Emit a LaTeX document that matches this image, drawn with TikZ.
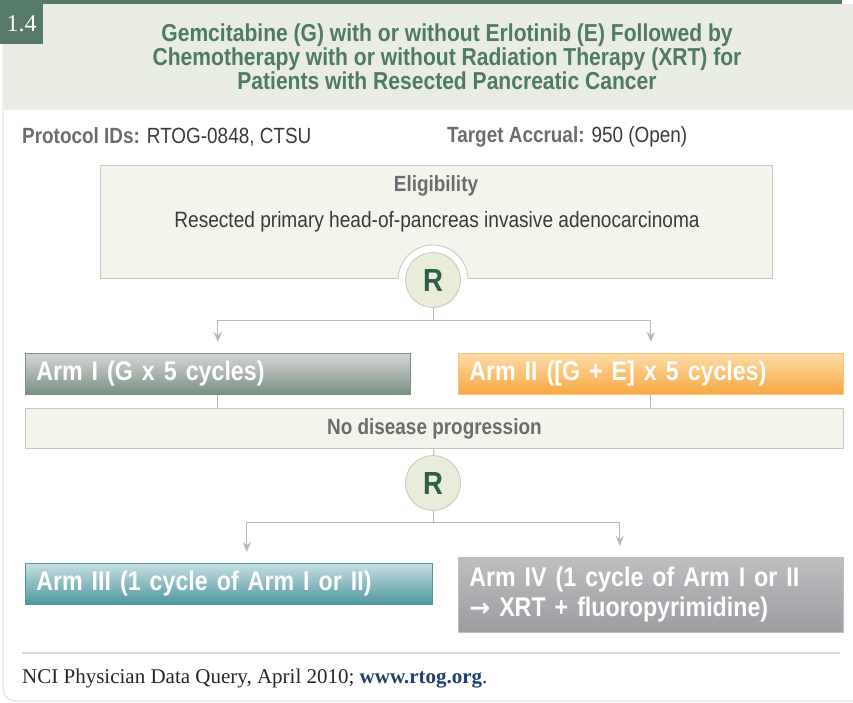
\documentclass[tikz,border=0pt]{standalone}
\usepackage{fontspec}
\setmainfont{Liberation Serif}
\newfontfamily\condfont[FakeStretch=0.86]{Liberation Sans}
\newfontfamily\arrowfont{DejaVu Sans}
\usetikzlibrary{positioning,arrows.meta,calc}
\definecolor{darkgreen}{HTML}{577A68}
\definecolor{headbg}{HTML}{E9ECE3}
\definecolor{titlegreen}{HTML}{4F7B65}
\definecolor{labelgray}{HTML}{6B6C6E}
\definecolor{textdark}{HTML}{3A3A3A}
\definecolor{panelbg}{HTML}{F4F4EC}
\definecolor{panelline}{HTML}{C6C7C0}
\definecolor{connline}{HTML}{B9B9B9}
\definecolor{rfill}{HTML}{E9ECD9}
\definecolor{rtext}{HTML}{2F5E49}
\definecolor{linkblue}{HTML}{1F3F6E}
\definecolor{armonetop}{HTML}{D3D5D4}
\definecolor{armonemid}{HTML}{AAB3AE}
\definecolor{armonebot}{HTML}{74917F}
\definecolor{armtwotop}{HTML}{FDDBA6}
\definecolor{armtwobot}{HTML}{F8A843}
\definecolor{armthreetop}{HTML}{C6DFE2}
\definecolor{armthreebot}{HTML}{4D979E}
\definecolor{armfourtop}{HTML}{BEBEC1}
\definecolor{armfourbot}{HTML}{9D9DA1}

\begin{document}
\begin{tikzpicture}[x=1pt, y=-1pt,
    panel/.style={draw=panelline, fill=panelbg, line width=0.8pt, inner sep=0pt},
    rnode/.style={circle, draw=panelline, fill=rfill, line width=0.8pt, minimum size=55pt, inner sep=0pt,
      font=\condfont\fontsize{32}{32}\selectfont\bfseries, text=rtext},
    arm/.style={anchor=north west, inner xsep=11pt, inner ysep=0pt, minimum height=41pt, line width=0.6pt,
      text=white, font=\condfont\fontsize{27}{30}\selectfont\bfseries, align=left},
    conn/.style={draw=connline, line width=1pt},
    arrow/.style={conn, -{Stealth[length=10pt, width=8pt]}, shorten >=11pt}]

  \useasboundingbox (0,0) rectangle (853,703);

  % frame and header
  \draw [draw=headbg!70!panelline, line width=1pt, rounded corners=12pt] (3,44) -- (3,701) -- (870,701);
  \fill [headbg] (3,4) rectangle (853,110);
  \fill [darkgreen] (0,0) rectangle (842,4);
  \node [fill=darkgreen, text=white, anchor=north west, minimum width=43pt, minimum height=40pt,
    inner sep=0pt, font=\fontsize{24}{24}\selectfont] (num) at (0,4) {1.4};
  \node [text=titlegreen, align=center, font=\condfont\fontsize{24.5}{24}\selectfont\bfseries] (title) at (447,57)
    {Gemcitabine (G) with or without Erlotinib (E) Followed by\\
     Chemotherapy with or without Radiation Therapy (XRT) for\\
     Patients with Resected Pancreatic Cancer};

  \node [anchor=west, inner sep=0pt, font=\condfont\fontsize{22}{22}\selectfont, text=textdark] (ids) at (22,137)
    {\textcolor{labelgray}{\bfseries Protocol IDs:} RTOG-0848, CTSU};
  \node [anchor=west, inner sep=0pt, font=\condfont\fontsize{22}{22}\selectfont, text=textdark] (accrual) at (447,137)
    {\textcolor{labelgray}{\bfseries Target Accrual:} 950 (Open)};

  % eligibility
  \node [panel, anchor=north west, minimum width=672pt, minimum height=113pt] (elig) at (100,165) {};
  \node [font=\condfont\fontsize{22}{22}\selectfont\bfseries, text=labelgray] (eligtitle) at (436,186) {Eligibility};
  \node [font=\condfont\fontsize{22.2}{22}\selectfont, text=textdark] (eligtext) at (437,222)
    {Resected primary head-of-pancreas invasive adenocarcinoma};
  \begin{scope}
    \clip (390,240) rectangle (476,278.4);
    \filldraw [fill=white, draw=panelline, line width=0.8pt] (433,280) circle (35pt);
  \end{scope}
  \node [rnode] (r1) at (433,280) {R};

  % first randomisation
  \node [arm, text width=363pt, draw=armonebot, top color=armonetop, bottom color=armonebot,
    middle color=armonemid] (arm1) at (25,353) {Arm I (G x 5 cycles)};
  \node [arm, text width=363pt, draw=armtwobot!70, top color=armtwotop, bottom color=armtwobot]
    (arm2) at (458,353) {Arm II ([G + E] x 5 cycles)};
  \coordinate (split1) at (433,320);
  \draw [conn] (r1) -- (split1);
  \draw [arrow] (split1) -| (arm1.north);
  \draw [arrow] (split1) -| (arm2.north);

  \node [panel, anchor=north west, minimum width=818pt, minimum height=40pt,
    font=\condfont\fontsize{22}{22}\selectfont\bfseries, text=labelgray] (nodis) at (25,408) {No disease progression};
  \draw [conn] (arm1.south) -- (arm1.south |- nodis.north);
  \draw [conn] (arm2.south) -- (arm2.south |- nodis.north);

  % second randomisation
  \node [rnode] (r2) at (433,483) {R};
  \draw [conn] (nodis) -- (r2);
  \node [arm, text width=385pt, draw=armthreebot, top color=armthreetop, bottom color=armthreebot]
    (arm3) at (25,563) {Arm III (1 cycle of Arm I or II)};
  \node [arm, text width=363pt, minimum height=75pt, draw=armfourtop, top color=armfourtop, bottom color=armfourbot]
    (arm4) at (458,557) {Arm IV (1 cycle of Arm I or II\\
      {\arrowfont\bfseries\fontsize{25}{25}\selectfont\char"2192} XRT + fluoropyrimidine)};
  \coordinate (split2) at (433,522);
  \draw [conn] (r2) -- (split2);
  \draw [arrow] (split2) -| ([xshift=18pt]arm3.north);
  \draw [arrow] (split2) -| ([xshift=-31pt]arm4.north);

  % source
  \draw [draw=panelline!70, line width=1.2pt] (22,653) -- (840,653);
  \node [anchor=west, inner sep=0pt, font=\fontsize{21}{21}\selectfont, text=black!85] (source) at (22,679)
    {NCI Physician Data Query, April 2010; \textcolor{linkblue}{\bfseries www.rtog.org}.};
\end{tikzpicture}
\end{document}
